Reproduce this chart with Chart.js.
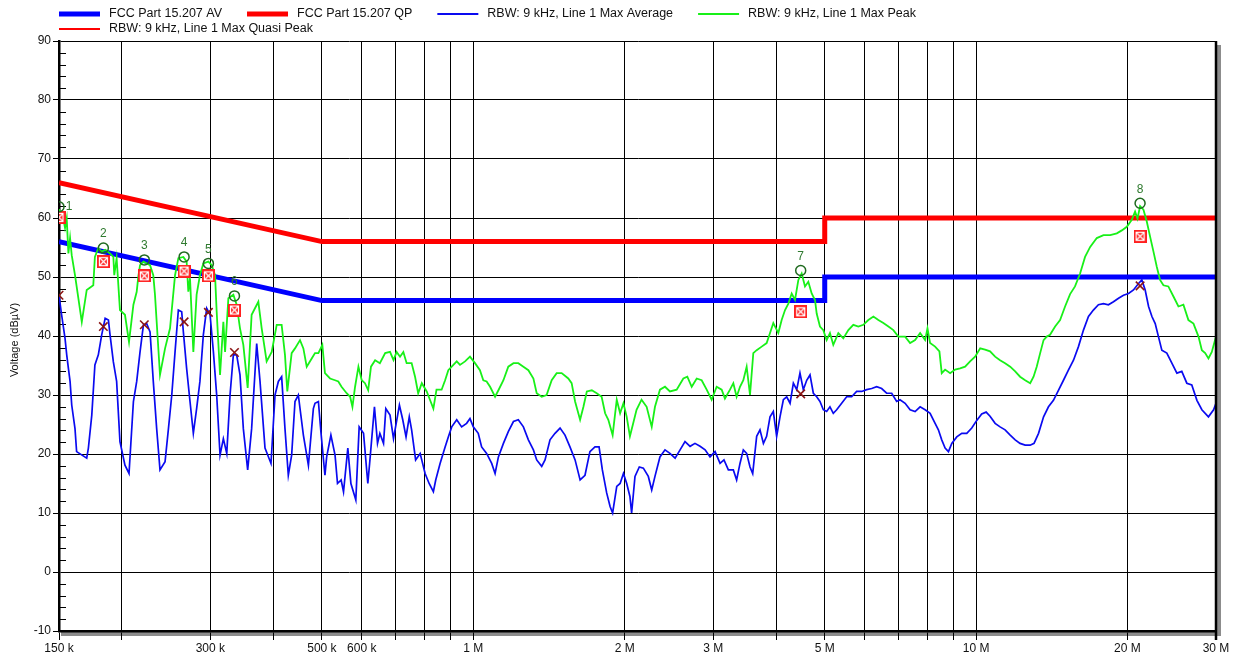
<!DOCTYPE html>
<html>
<head>
<meta charset="utf-8">
<script src="https://cdn.jsdelivr.net/npm/chart.js@4.4.1/dist/chart.umd.min.js"></script>
<style>
  html, body { margin: 0; padding: 0; background: #ffffff; }
  #wrap { position: relative; width: 1236px; height: 657px; }
</style>
</head>
<body>
<div id="wrap"><canvas id="c" width="1236" height="657"></canvas></div>
<script>
// ---- Frequency axis (MHz) ----
const tickFreqs  = [0.15, 0.2, 0.3, 0.4, 0.5, 0.6, 0.7, 0.8, 0.9, 1, 2, 3, 4, 5, 6, 7, 8, 9, 10, 20, 30];
const tickLabels = ['150 k', '', '300 k', '', '500 k', '600 k', '', '', '', '1 M', '2 M', '3 M', '', '5 M', '', '', '', '', '10 M', '20 M', '30 M'];

// ---- FCC Part 15.207 limits (dBµV) ----
const limitFreq    = [0.15, 0.5, 5, 5, 30];
const avLimitLevel = [56, 46, 46, 50, 50];
const qpLimitLevel = [66, 56, 56, 60, 60];

// ---- RBW 9 kHz, Line 1, max average trace ----
const avgFreq = [
  0.150, 0.1518, 0.1542, 0.1554, 0.1566, 0.1578, 0.159, 0.1614, 0.1626, 0.1703, 0.1716, 0.1743, 0.1768, 0.1796,
  0.1824, 0.1853, 0.1881, 0.1895, 0.1924, 0.1953, 0.1983, 0.2029, 0.2067, 0.2109, 0.2141, 0.2174, 0.2208, 0.2241,
  0.2276, 0.231, 0.2346, 0.2382, 0.2438, 0.2476, 0.2514, 0.2552, 0.2591, 0.2631, 0.2651, 0.2691, 0.2733, 0.2775,
  0.2817, 0.286, 0.2905, 0.295, 0.2996, 0.3042, 0.3088, 0.3136, 0.3184, 0.3234, 0.3283, 0.3333, 0.3384, 0.3436,
  0.3489, 0.3559, 0.3624, 0.3709, 0.3766, 0.3853, 0.396, 0.4034, 0.4096, 0.4158, 0.4222, 0.4287, 0.4353, 0.442,
  0.4488, 0.4593, 0.47, 0.4808, 0.4844, 0.492, 0.498, 0.507, 0.511, 0.521, 0.531, 0.537, 0.546, 0.552, 0.563,
  0.571, 0.584, 0.593, 0.605, 0.617, 0.623, 0.636, 0.645, 0.652, 0.663, 0.670, 0.683, 0.694, 0.713, 0.724, 0.735,
  0.746, 0.754, 0.768, 0.784, 0.802, 0.817, 0.833, 0.842, 0.859, 0.879, 0.892, 0.906, 0.927, 0.948, 0.970, 0.985,
  1.000, 1.023, 1.039, 1.063, 1.088, 1.105, 1.122, 1.148, 1.174, 1.202, 1.229, 1.258, 1.287, 1.317, 1.337, 1.368,
  1.389, 1.421, 1.454, 1.488, 1.522, 1.557, 1.594, 1.631, 1.668, 1.706, 1.746, 1.779, 1.806, 1.842, 1.871, 1.893,
  1.929, 1.959, 1.989, 2.019, 2.049, 2.065, 2.097, 2.139, 2.179, 2.229, 2.264, 2.298, 2.351, 2.406, 2.461, 2.520,
  2.578, 2.637, 2.699, 2.760, 2.825, 2.891, 2.957, 3.026, 3.096, 3.152, 3.216, 3.290, 3.340, 3.392, 3.444, 3.497,
  3.551, 3.595, 3.661, 3.717, 3.776, 3.832, 3.892, 3.951, 4.012, 4.074, 4.137, 4.201, 4.266, 4.331, 4.398, 4.464,
  4.533, 4.604, 4.674, 4.746, 4.819, 4.892, 4.968, 5.044, 5.121, 5.200, 5.281, 5.403, 5.528, 5.656, 5.787, 5.922,
  6.059, 6.200, 6.342, 6.489, 6.639, 6.794, 6.951, 7.058, 7.225, 7.392, 7.563, 7.739, 7.918, 8.101, 8.289, 8.414,
  8.544, 8.677, 8.811, 8.946, 9.153, 9.365, 9.582, 9.804, 10.03, 10.26, 10.47, 10.66, 10.91, 11.16, 11.42, 11.69,
  11.96, 12.23, 12.52, 12.81, 13.04, 13.31, 13.62, 13.93, 14.25, 14.58, 14.92, 15.26, 15.62, 15.98, 16.35, 16.73,
  17.11, 17.51, 17.92, 18.33, 18.76, 19.20, 19.64, 20.10, 20.56, 21.04, 21.36, 21.69, 22.03, 22.37, 22.71, 23.05,
  23.41, 23.95, 24.51, 25.08, 25.65, 26.25, 26.85, 27.49, 28.12, 28.98, 29.67, 30.0
];
const avgLevel = [
  46.9, 43.6, 39.6, 36.8, 34.5, 32.3, 28.3, 24.3, 20.4, 19.3, 21.0, 26.6, 35.1, 36.8,
  40.2, 43.0, 42.7, 40.2, 35.6, 32.3, 22.1, 18.1, 16.7, 28.9, 32.3, 37.3, 41.9, 42.1,
  40.7, 32.3, 24.3, 17.3, 18.7, 24.3, 30.0, 37.3, 44.4, 44.1, 40.7, 34.5, 28.9, 23.5,
  27.7, 32.3, 40.2, 44.7, 43.6, 37.3, 30.0, 19.8, 22.6, 20.1, 30.0, 36.8, 36.8, 33.4,
  24.3, 17.3, 24.3, 38.7, 32.3, 21.0, 18.4, 30.0, 32.3, 33.1, 24.3, 16.4, 19.8, 28.9,
  30.0, 23.2, 18.1, 27.7, 28.6, 28.9, 23.5, 16.4, 19.5, 23.2, 19.8, 15.0, 15.6, 13.6, 21.0,
  15.0, 12.2, 24.6, 23.5, 15.0, 19.0, 28.0, 21.8, 23.5, 21.8, 27.7, 26.6, 22.6, 28.3, 25.8, 22.9,
  26.3, 24.1, 19.0, 20.1, 16.7, 15.0, 13.6, 15.6, 18.4, 21.2, 22.9, 24.6, 25.8, 24.6, 25.2, 26.0,
  24.6, 23.5, 21.2, 20.1, 18.4, 16.7, 19.5, 21.8, 23.8, 25.5, 25.8, 24.6, 22.4, 20.7, 19.0, 17.9,
  19.0, 22.4, 23.5, 24.4, 23.2, 21.2, 19.0, 15.6, 16.4, 20.4, 21.2, 21.2, 17.3, 13.4, 11.1, 10.0,
  14.5, 15.0, 16.7, 15.0, 12.8, 10.0, 16.2, 17.8, 17.6, 16.2, 13.9, 16.2, 19.5, 20.7, 20.1, 19.3,
  20.7, 22.1, 21.3, 21.8, 21.3, 20.7, 19.5, 20.4, 18.4, 19.0, 17.3, 17.3, 15.6, 18.4, 20.7, 20.1,
  17.8, 16.7, 23.0, 24.1, 21.8, 23.0, 26.3, 27.2, 23.0, 26.3, 29.2, 29.7, 28.6, 32.0, 30.9, 33.7,
  30.9, 32.5, 33.4, 30.3, 29.7, 28.9, 27.5, 27.2, 28.0, 26.9, 27.5, 28.6, 29.7, 29.7, 30.6, 30.6,
  30.9, 31.1, 31.4, 31.1, 30.3, 30.3, 28.9, 29.2, 28.6, 27.5, 27.2, 28.0, 27.5, 26.9, 25.2, 24.1,
  22.4, 21.0, 20.4, 21.8, 22.9, 23.5, 23.5, 24.4, 25.7, 26.8, 27.1, 26.4, 25.2, 24.6, 24.1, 23.2,
  22.4, 21.8, 21.5, 21.5, 21.8, 23.5, 26.3, 28.0, 29.1, 30.8, 32.5, 34.2, 35.9, 38.2, 41.0, 43.3,
  44.4, 45.3, 45.5, 45.3, 45.8, 46.4, 46.9, 47.2, 47.8, 48.9, 49.5, 47.8, 45.0, 43.3, 42.1, 39.9,
  37.6, 37.1, 35.4, 33.7, 34.0, 32.0, 31.7, 29.1, 27.5, 26.3, 27.5, 28.6
];

// ---- RBW 9 kHz, Line 1, max peak trace ----
const peakFreq = [
  0.150, 0.153, 0.1542, 0.1554, 0.1566, 0.1578, 0.159, 0.1614, 0.1665, 0.1703, 0.1755, 0.1768, 0.1796, 0.1824,
  0.1853, 0.1895, 0.1924, 0.1932, 0.1953, 0.1983, 0.2029, 0.2067, 0.2109, 0.2141, 0.2157, 0.2174, 0.2208, 0.2276,
  0.231, 0.2328, 0.2382, 0.2438, 0.2494, 0.2552, 0.2591, 0.2651, 0.2691, 0.2712, 0.2733, 0.2775, 0.2817, 0.286,
  0.2905, 0.2973, 0.3019, 0.3065, 0.3088, 0.3136, 0.3184, 0.3209, 0.3258, 0.3333, 0.3384, 0.3436, 0.3489, 0.3559,
  0.3624, 0.368, 0.3737, 0.3795, 0.3882, 0.3973, 0.4065, 0.4158, 0.4222, 0.4267, 0.4353, 0.442, 0.4523, 0.4593,
  0.4664, 0.4772, 0.4844, 0.492, 0.501, 0.507, 0.519, 0.531, 0.539, 0.547, 0.56, 0.569, 0.575, 0.582, 0.591, 0.6,
  0.609, 0.618, 0.626, 0.638, 0.652, 0.668, 0.683, 0.694, 0.704, 0.715, 0.726, 0.737, 0.754, 0.766, 0.777, 0.790,
  0.808, 0.820, 0.833, 0.845, 0.865, 0.879, 0.892, 0.906, 0.927, 0.941, 0.963, 0.985, 1.008, 1.031, 1.047, 1.063,
  1.080, 1.105, 1.122, 1.148, 1.174, 1.202, 1.229, 1.258, 1.287, 1.317, 1.337, 1.368, 1.399, 1.432, 1.465, 1.499,
  1.545, 1.569, 1.594, 1.631, 1.656, 1.682, 1.721, 1.760, 1.800, 1.829, 1.856, 1.893, 1.929, 1.959, 1.989, 2.019,
  2.049, 2.080, 2.112, 2.161, 2.212, 2.264, 2.298, 2.351, 2.406, 2.461, 2.538, 2.617, 2.665, 2.719, 2.782, 2.846,
  2.912, 2.979, 3.048, 3.119, 3.166, 3.240, 3.290, 3.340, 3.392, 3.444, 3.497, 3.551, 3.605, 3.661, 3.746, 3.832,
  3.892, 3.951, 4.043, 4.105, 4.169, 4.233, 4.298, 4.364, 4.431, 4.499, 4.568, 4.638, 4.710, 4.782, 4.819, 4.892,
  4.968, 5.044, 5.121, 5.200, 5.321, 5.444, 5.571, 5.699, 5.832, 5.967, 6.105, 6.248, 6.392, 6.540, 6.693, 6.846,
  7.005, 7.225, 7.392, 7.563, 7.739, 7.918, 8.004, 8.101, 8.289, 8.454, 8.544, 8.677, 8.879, 9.083, 9.294, 9.509,
  9.729, 9.955, 10.19, 10.42, 10.66, 10.91, 11.16, 11.42, 11.69, 11.96, 12.23, 12.52, 12.81, 13.01, 13.20, 13.41,
  13.62, 13.82, 14.03, 14.36, 14.69, 15.03, 15.38, 15.73, 16.10, 16.47, 16.86, 17.38, 17.92, 18.48, 19.05, 19.49,
  19.94, 20.40, 20.71, 20.94, 21.19, 21.52, 21.85, 22.19, 22.53, 22.88, 23.22, 23.58, 24.12, 24.69, 25.26, 25.84,
  26.44, 27.06, 27.69, 28.12, 28.55, 28.98, 29.43, 30.0
];
const peakLevel = [
  61.5, 59.9, 58.3, 59.9, 54.0, 56.6, 53.7, 50.3, 42.4, 47.8, 48.6, 53.4, 54.9, 54.3,
  54.6, 54.0, 53.4, 50.3, 53.2, 44.4, 43.6, 39.0, 45.3, 47.5, 50.1, 52.0, 52.6, 52.0,
  50.3, 47.0, 33.4, 37.9, 41.3, 50.3, 53.2, 53.4, 52.6, 47.5, 49.8, 37.3, 47.0, 50.3,
  52.3, 52.6, 52.0, 50.3, 44.1, 33.4, 42.4, 37.3, 46.4, 47.0, 45.3, 41.3, 38.5, 31.2,
  43.6, 44.7, 45.8, 41.3, 35.7, 37.3, 41.9, 41.9, 36.8, 30.6, 37.1, 37.9, 39.3, 37.9,
  34.8, 36.2, 37.1, 37.1, 38.5, 33.7, 32.8, 32.5, 32.3, 31.4, 30.3, 29.7, 28.0, 31.4, 34.8, 32.5,
  32.0, 30.8, 34.8, 35.9, 35.4, 37.1, 37.3, 35.9, 37.3, 36.5, 37.3, 35.4, 35.4, 33.1, 30.3, 32.0,
  30.6, 29.2, 27.7, 30.9, 30.9, 32.5, 34.2, 34.8, 35.7, 35.1, 35.7, 36.5, 35.4, 34.2, 32.5, 32.3,
  31.4, 29.7, 30.8, 32.5, 34.8, 35.4, 35.4, 34.8, 34.2, 32.8, 30.3, 29.7, 30.0, 32.5, 33.7, 33.7,
  32.8, 32.0, 28.9, 25.8, 28.0, 30.6, 30.8, 30.3, 29.7, 26.9, 25.8, 23.2, 29.2, 26.9, 28.6, 26.3,
  23.0, 25.2, 27.5, 29.2, 28.0, 24.6, 28.0, 30.9, 31.4, 30.6, 30.9, 32.8, 33.1, 31.4, 32.8, 32.5,
  30.9, 29.2, 31.4, 30.9, 29.4, 30.9, 32.0, 29.7, 31.4, 32.5, 34.8, 30.0, 37.1, 37.6, 38.2, 38.8,
  40.5, 42.2, 40.5, 42.7, 44.4, 45.5, 47.2, 46.1, 49.5, 50.6, 48.4, 49.2, 47.2, 46.1, 43.8, 41.6,
  41.0, 39.3, 40.5, 38.5, 40.5, 39.6, 41.0, 41.9, 41.6, 41.9, 42.7, 43.3, 42.7, 42.2, 41.6, 41.0,
  39.9, 39.9, 38.8, 39.3, 40.5, 39.3, 41.3, 38.8, 38.2, 37.4, 33.7, 34.3, 33.7, 34.3, 34.5, 34.8,
  35.7, 36.5, 37.9, 37.7, 37.4, 36.5, 35.9, 35.4, 34.8, 34.0, 33.1, 32.5, 32.0, 33.1, 34.8, 37.1,
  39.3, 39.9, 40.2, 41.6, 42.7, 45.0, 47.1, 48.4, 50.6, 53.4, 55.1, 56.6, 57.1, 57.1, 57.4, 57.9,
  58.5, 59.7, 61.1, 59.9, 62.0, 61.4, 59.4, 56.8, 54.3, 51.7, 49.5, 48.6, 48.4, 46.7, 45.0, 45.3,
  42.7, 42.1, 39.9, 37.6, 37.1, 36.2, 37.3, 39.9
];

// ---- Final measurement markers ----
const markerNames   = ['1', '2', '3', '4', '5', '6', '7', '8'];
const markerFreq    = [0.150, 0.1838, 0.2217, 0.266, 0.2973, 0.335, 4.479, 21.19];
const markerPeak    = [61.9, 54.9, 52.9, 53.4, 52.3, 46.8, 51.1, 62.5];
const markerQuasi   = [60.1, 52.6, 50.2, 51.0, 50.2, 44.4, 44.1, 56.9];
const markerAverage = [46.9, 41.6, 41.9, 42.4, 44.0, 37.2, 30.2, 48.5];

const FONT = '"Liberation Sans", Arial, Helvetica, sans-serif';
const pts = (xs, ys) => xs.map((x, i) => ({ x: x, y: ys[i] }));

// Boxed-cross symbol used for the quasi-peak readings
function boxedCross() {
  const c = document.createElement('canvas');
  c.width = 13; c.height = 13;
  const g = c.getContext('2d');
  g.fillStyle = '#ff2020';
  g.fillRect(0, 0, 13, 13);
  g.strokeStyle = '#ffffff';
  g.lineWidth = 1.2;
  g.strokeRect(2.5, 2.5, 8, 8);
  g.beginPath();
  g.moveTo(3, 3); g.lineTo(10, 10);
  g.moveTo(10, 3); g.lineTo(3, 10);
  g.stroke();
  return c;
}

const chartDecor = {
  id: 'chartDecor',
  beforeDraw(chart) {
    const { ctx, chartArea: a } = chart;
    ctx.save();
    ctx.fillStyle = '#8c8c8c';
    ctx.fillRect(a.right + 1, a.top + 4, 4, a.bottom - a.top + 1);
    ctx.fillRect(a.left + 2, a.bottom + 1, a.right - a.left + 3, 4);
    ctx.restore();
  },
  beforeDatasetsDraw(chart) {
    const { ctx, chartArea: a, scales } = chart;
    ctx.save();
    ctx.strokeStyle = '#000';
    ctx.lineWidth = 1;
    for (let v = -8; v < 90; v += 2) {
      if (v % 10 === 0) continue;
      const y = Math.round(scales.y.getPixelForValue(v)) + 0.5;
      ctx.beginPath();
      ctx.moveTo(a.left, y);
      ctx.lineTo(a.left + 7, y);
      ctx.stroke();
    }
    ctx.restore();
  },
  afterDatasetsDraw(chart) {
    const { ctx, chartArea: a } = chart;
    const meta = chart.getDatasetMeta(0);
    ctx.save();
    ctx.fillStyle = '#2f7a2f';
    ctx.font = '12px ' + FONT;
    ctx.textBaseline = 'middle';
    ctx.textAlign = 'center';
    meta.data.forEach((p, i) => {
      if (p.x - a.left < 8) {
        ctx.fillText(markerNames[i], p.x + 10, p.y);
      } else {
        ctx.fillText(markerNames[i], p.x, p.y - 14);
      }
    });
    ctx.restore();
  },
  afterDraw(chart) {
    const { ctx, chartArea: a } = chart;
    ctx.save();
    // right frame edge
    ctx.strokeStyle = '#000';
    ctx.lineWidth = 2.5;
    ctx.beginPath();
    ctx.moveTo(a.right, a.top);
    ctx.lineTo(a.right, a.bottom + 9);
    ctx.stroke();

    // y axis title
    ctx.fillStyle = '#111';
    ctx.font = '11px ' + FONT;
    ctx.textAlign = 'center';
    ctx.textBaseline = 'middle';
    ctx.translate(15, (a.top + a.bottom) / 2 + 4);
    ctx.rotate(-Math.PI / 2);
    ctx.fillText('Voltage (dBµV)', 0, 0);
    ctx.restore();

    // legend
    const items = chart.options.plugins.chartDecor.legend;
    ctx.save();
    ctx.font = '12.5px ' + FONT;
    ctx.textBaseline = 'middle';
    ctx.textAlign = 'left';
    let x = 59, y = 14;
    items.forEach((it, i) => {
      if (i === 4) { x = 59; y = 29; }
      ctx.strokeStyle = it.color;
      ctx.lineWidth = it.width;
      ctx.beginPath();
      ctx.moveTo(x, y);
      ctx.lineTo(x + 41, y);
      ctx.stroke();
      ctx.fillStyle = '#111';
      ctx.fillText(it.label, x + 50, y);
      x += 50 + ctx.measureText(it.label).width + 25;
    });
    ctx.restore();
  }
};

new Chart(document.getElementById('c'), {
  type: 'line',
  data: {
    datasets: [
      {
        label: 'Peak marker',
        type: 'scatter',
        data: pts(markerFreq, markerPeak),
        showLine: false,
        pointStyle: 'circle',
        pointRadius: 5,
        pointBorderColor: '#1f6a1f',
        pointBackgroundColor: 'rgba(0,0,0,0)',
        pointBorderWidth: 1.5,
        order: 0
      },
      {
        label: 'RBW: 9 kHz, Line 1 Max Quasi Peak',
        type: 'scatter',
        data: pts(markerFreq, markerQuasi),
        showLine: false,
        pointStyle: boxedCross(),
        order: 0
      },
      {
        label: 'Average marker',
        type: 'scatter',
        data: pts(markerFreq, markerAverage),
        showLine: false,
        pointStyle: 'crossRot',
        pointRadius: 6,
        pointBorderColor: '#8b1414',
        pointBorderWidth: 1.6,
        order: 0
      },
      {
        label: 'RBW: 9 kHz, Line 1 Max Peak',
        data: pts(peakFreq, peakLevel),
        borderColor: '#18f018',
        borderWidth: 1.8,
        pointRadius: 0,
        tension: 0,
        order: 1
      },
      {
        label: 'RBW: 9 kHz, Line 1 Max Average',
        data: pts(avgFreq, avgLevel),
        borderColor: '#0a0af0',
        borderWidth: 1.7,
        pointRadius: 0,
        tension: 0,
        order: 2
      },
      {
        label: 'FCC Part 15.207 QP',
        data: pts(limitFreq, qpLimitLevel),
        borderColor: '#ff0000',
        borderWidth: 5,
        pointRadius: 0,
        tension: 0,
        order: 3
      },
      {
        label: 'FCC Part 15.207 AV',
        data: pts(limitFreq, avLimitLevel),
        borderColor: '#0000ff',
        borderWidth: 5,
        pointRadius: 0,
        tension: 0,
        order: 3
      }
    ]
  },
  options: {
    responsive: false,
    animation: false,
    devicePixelRatio: 1,
    parsing: true,
    layout: { padding: { top: 41, right: 20, left: 0, bottom: 0 } },
    scales: {
      x: {
        type: 'logarithmic',
        min: 0.15,
        max: 30,
        afterBuildTicks: (s) => { s.ticks = tickFreqs.map(v => ({ value: v })); },
        afterFit: (s) => { s.height = 26; },
        ticks: {
          autoSkip: false,
          maxRotation: 0,
          minRotation: 0,
          padding: 1,
          color: '#111',
          font: { family: FONT, size: 12 },
          callback: (v, i) => tickLabels[i]
        },
        grid: { color: '#000', lineWidth: 1, tickLength: 9, drawTicks: true },
        border: { display: true, color: '#000', width: 2.5 }
      },
      y: {
        type: 'linear',
        min: -10,
        max: 90,
        afterFit: (s) => { s.width = 59; },
        ticks: {
          stepSize: 10,
          padding: 2,
          color: '#111',
          font: { family: FONT, size: 12 }
        },
        grid: { color: '#000', lineWidth: 1, tickLength: 6 },
        border: { display: true, color: '#000', width: 2.5 }
      }
    },
    plugins: {
      legend: { display: false },
      tooltip: { enabled: false },
      chartDecor: {
        legend: [
          { label: 'FCC Part 15.207 AV', color: '#0000ff', width: 5 },
          { label: 'FCC Part 15.207 QP', color: '#ff0000', width: 5 },
          { label: 'RBW: 9 kHz, Line 1 Max Average', color: '#0a0af0', width: 2 },
          { label: 'RBW: 9 kHz, Line 1 Max Peak', color: '#18f018', width: 2 },
          { label: 'RBW: 9 kHz, Line 1 Max Quasi Peak', color: '#ff0000', width: 2 }
        ]
      }
    }
  },
  plugins: [chartDecor]
});
</script>
</body>
</html>
